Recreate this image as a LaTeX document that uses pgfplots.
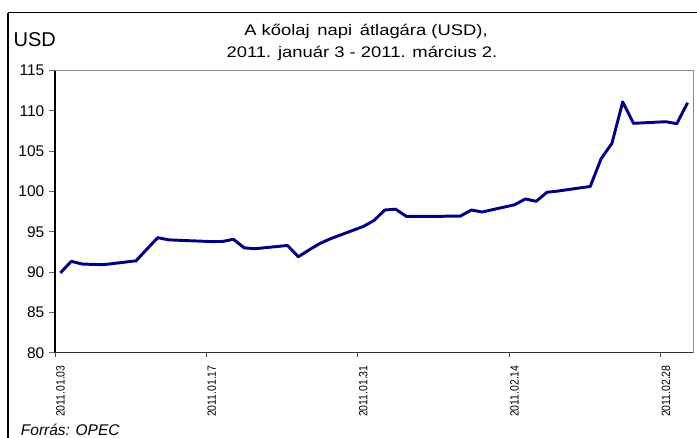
\documentclass[border=0pt]{standalone}
\usepackage{fontspec}
\setmainfont{Liberation Sans}
\newfontfamily\titlefont{Liberation Sans}[FakeStretch=1.2]
\newfontfamily\datefont{Liberation Sans}[FakeStretch=0.87]
\usepackage{pgfplots}
\pgfplotsset{compat=1.18}
\definecolor{navyline}{RGB}{0,0,128}
\pgfplotstableread{
day price
0 89.90
1 91.33
2 91.00
3 90.95
4 90.92
7 91.40
8 92.85
9 94.27
10 94.00
11 93.94
14 93.78
15 93.80
16 94.07
17 93.00
18 92.90
21 93.30
22 91.90
23 92.75
24 93.55
25 94.15
28 95.65
29 96.40
30 97.70
31 97.80
32 96.90
35 96.90
36 96.95
37 96.95
38 97.70
39 97.45
42 98.35
43 99.07
44 98.78
45 99.90
46 100.05
49 100.62
50 104.05
51 105.95
52 111.10
53 108.45
56 108.65
57 108.40
58 111.00
}\oildata
\begin{document}
\begin{tikzpicture}
\useasboundingbox (0,0) rectangle (522.75pt,-327.75pt);
\begin{scope}[x=0.75pt,y=-0.75pt]
\draw[black, line width=0.8pt] (8,12.7) -- (800,12.7);
\draw[black, line width=0.8pt] (8,12.7) -- (8,600);
\node[anchor=base west, font=\fontsize{15}{18}\selectfont, inner sep=0] at (13.3,46) {USD};
\node[anchor=base, font=\titlefont\fontsize{11.5}{14}\selectfont, inner sep=0] at (366,35) {A kőolaj\, napi\, átlagára (USD),};
\node[anchor=base, font=\titlefont\fontsize{11.5}{14}\selectfont, inner sep=0] at (362,57.7) {2011. január 3 - 2011. március 2.};
\node[anchor=base west, font=\itshape\fontsize{11.6}{14}\selectfont, inner sep=0] at (20.7,435.5) {Forrás: OPEC};
\end{scope}
\begin{axis}[
  at={(41.25pt,-264.525pt)}, anchor=south west,
  scale only axis, width=478.5pt, height=211.65pt,
  xmin=-0.5, xmax=58.5, ymin=80, ymax=115,
  axis line style={black!45, line width=0.6pt},
  ytick={80,85,...,115},
  xtick={0,14,28,42,56},
  xticklabels={2011.01.03,2011.01.17,2011.01.31,2011.02.14,2011.02.28},
  xtick style={draw=none},
  ytick pos=left, ytick align=outside,
  major tick length=4.5pt,
  ytick style={black!60, line width=0.6pt},
  /pgf/number format/assume math mode=true,
  yticklabel style={font=\fontsize{11.6}{14}\selectfont, anchor=east},
  xticklabel style={font=\datefont\fontsize{9}{10}\selectfont, rotate=90, anchor=east},
  xticklabel shift=6pt,
  clip=false,
]
\draw[black, line width=0.8pt] (rel axis cs:0,0) -- (rel axis cs:0,1);
\draw[black!80, line width=0.8pt] (rel axis cs:0,0) -- (rel axis cs:1,0);
\pgfplotsinvokeforeach{-0.5,13.5,27.5,41.5,55.5}{
  \draw[black!70, line width=0.6pt] (axis cs:#1,80) -- ([yshift=-3pt]axis cs:#1,80);
}
\addplot[navyline, line width=2.2pt, line join=round, mark=none] table[x=day,y=price]{\oildata};
\end{axis}
\end{tikzpicture}
\end{document}
